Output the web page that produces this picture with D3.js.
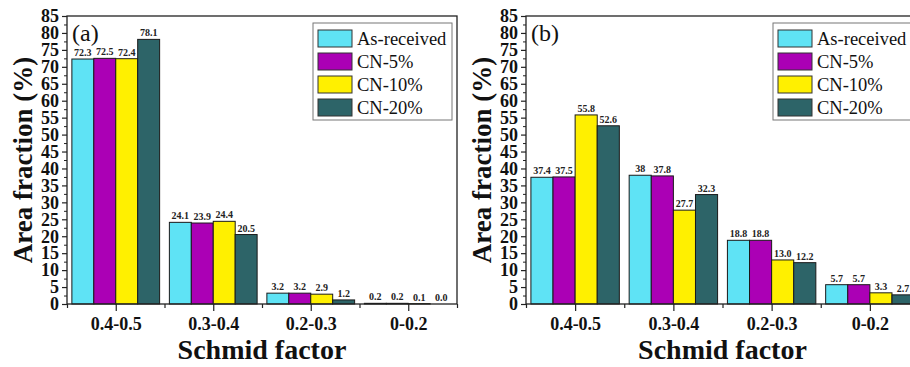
<!DOCTYPE html>
<html><head><meta charset="utf-8">
<script src="https://cdn.jsdelivr.net/npm/d3@7"></script>
<style>html,body{margin:0;padding:0;background:#fff;overflow:hidden}svg{display:block}</style>
</head><body>
<svg id="c" width="910" height="367"></svg>
<script>
const categories = ["0.4-0.5", "0.3-0.4", "0.2-0.3", "0-0.2"];
const seriesNames = ["As-received", "CN-5%", "CN-10%", "CN-20%"];
const colors = ["#5fe3f5", "#ab00b5", "#fff000", "#2d6468"];
const yTicks = [0,5,10,15,20,25,30,35,40,45,50,55,60,65,70,75,80,85];

const aAsReceived = [72.3, 24.1, 3.2, 0.2];
const aCN5 = [72.5, 23.9, 3.2, 0.2];
const aCN10 = [72.4, 24.4, 2.9, 0.1];
const aCN20 = [78.1, 20.5, 1.2, 0.0];
const aLabels = [["72.3","24.1","3.2","0.2"],["72.5","23.9","3.2","0.2"],["72.4","24.4","2.9","0.1"],["78.1","20.5","1.2","0.0"]];

const bAsReceived = [37.4, 38.0, 18.8, 5.7];
const bCN5 = [37.5, 37.8, 18.8, 5.7];
const bCN10 = [55.8, 27.7, 13.0, 3.3];
const bCN20 = [52.6, 32.3, 12.2, 2.7];
const bLabels = [["37.4","38","18.8","5.7"],["37.5","37.8","18.8","5.7"],["55.8","27.7","13.0","3.3"],["52.6","32.3","12.2","2.7"]];

const svg = d3.select("#c");
const FONT = "'Liberation Serif','Times New Roman',serif";

function panel(opt) {
  const series = opt.series;
  const x = d3.scaleLinear().domain([0.5, 4.5]).range([opt.x0, opt.x1]);
  const y = d3.scaleLinear().domain([0, 85]).range([304, 16]);
  const g = svg.append("g");
  const bw = 0.225;

  // bars
  series.forEach((vals, si) => {
    const gs = g.append("g");
    gs.selectAll("rect").data(vals).join("rect")
      .attr("x", (d, i) => x(i + 1 - 2 * bw + si * bw))
      .attr("y", d => y(d))
      .attr("width", x(1 + bw) - x(1))
      .attr("height", d => y(0) - y(d))
      .attr("fill", colors[si])
      .attr("stroke", "#1a1a1a").attr("stroke-width", 1);
    gs.selectAll("text").data(vals).join("text")
      .attr("x", (d, i) => x(i + 1 - 1.5 * bw + si * bw))
      .attr("y", d => y(d) - 3)
      .attr("text-anchor", "middle")
      .attr("font-family", FONT).attr("font-weight", "bold").attr("font-size", 10)
      .attr("fill", "#222")
      .text((d, i) => opt.labels[si][i]);
  });

  // frame
  g.append("rect").attr("x", opt.x0).attr("y", 16).attr("width", opt.x1 - opt.x0).attr("height", 288)
    .attr("fill", "none").attr("stroke", "#222").attr("stroke-width", 1.3);

  // y axis
  const ya = d3.axisLeft(y).tickValues(yTicks).tickSize(5).tickPadding(3).tickFormat(d3.format("d"));
  const yg = g.append("g").attr("transform", `translate(${opt.x0},0)`).call(ya);
  yg.select(".domain").remove();
  yg.selectAll("line").attr("stroke", "#222").attr("stroke-width", 1.2);
  yg.selectAll("text").attr("font-family", FONT).attr("font-weight", "bold").attr("font-size", 18)
    .attr("fill", "#111");
  const yMinor = d3.axisLeft(y).tickValues(d3.range(2.5, 85, 5)).tickSize(3).tickFormat("");
  const ym = g.append("g").attr("transform", `translate(${opt.x0},0)`).call(yMinor);
  ym.select(".domain").remove();
  ym.selectAll("line").attr("stroke", "#222");

  // x axis
  const xa = d3.axisBottom(x).tickValues([1,2,3,4]).tickSize(7).tickPadding(6).tickFormat((d) => categories[d - 1]);
  const xg = g.append("g").attr("transform", "translate(0,304)").call(xa);
  xg.select(".domain").remove();
  xg.selectAll("line").attr("stroke", "#222").attr("stroke-width", 1.2);
  xg.selectAll("text").attr("font-family", FONT).attr("font-weight", "bold").attr("font-size", 18)
    .attr("fill", "#111");
  const xMinor = d3.axisBottom(x).tickValues([0.5,1.5,2.5,3.5,4.5]).tickSize(4).tickFormat("");
  const xm = g.append("g").attr("transform", "translate(0,304)").call(xMinor);
  xm.select(".domain").remove();
  xm.selectAll("line").attr("stroke", "#222").attr("stroke-width", 1.2);

  // titles
  g.append("text").attr("x", (opt.x0 + opt.x1) / 2).attr("y", 359).attr("text-anchor", "middle")
    .attr("font-family", FONT).attr("font-weight", "bold").attr("font-size", 28).attr("fill", "#111")
    .text("Schmid factor");
  g.append("text").attr("transform", `translate(${opt.x0 - 35},160) rotate(-90)`).attr("text-anchor", "middle")
    .attr("font-family", FONT).attr("font-weight", "bold").attr("font-size", 27).attr("fill", "#111")
    .text("Area fraction (%)");
  g.append("text").attr("x", opt.x0 + 5).attr("y", 41)
    .attr("font-family", FONT).attr("font-size", 24).attr("fill", "#111").text(opt.tag);

  // legend
  const lg = g.append("g").attr("transform", `translate(${opt.lx},23)`);
  lg.append("rect").attr("x", 0).attr("y", 0).attr("width", 139).attr("height", 97)
    .attr("fill", "#fff").attr("stroke", "#777").attr("stroke-width", 1);
  seriesNames.forEach((n, i) => {
    lg.append("rect").attr("x", 5).attr("y", 7 + i * 23).attr("width", 34).attr("height", 17)
      .attr("fill", colors[i]).attr("stroke", "#333").attr("stroke-width", 1);
    lg.append("text").attr("x", 44).attr("y", 22 + i * 23)
      .attr("font-family", FONT).attr("font-size", 18.5).attr("fill", "#111").text(n);
  });
}

panel({ x0: 67, x1: 457, series: [aAsReceived, aCN5, aCN10, aCN20], labels: aLabels, tag: "(a)", lx: 313 });
panel({ x0: 526, x1: 919, series: [bAsReceived, bCN5, bCN10, bCN20], labels: bLabels, tag: "(b)", lx: 773 });
</script>
</body></html>
